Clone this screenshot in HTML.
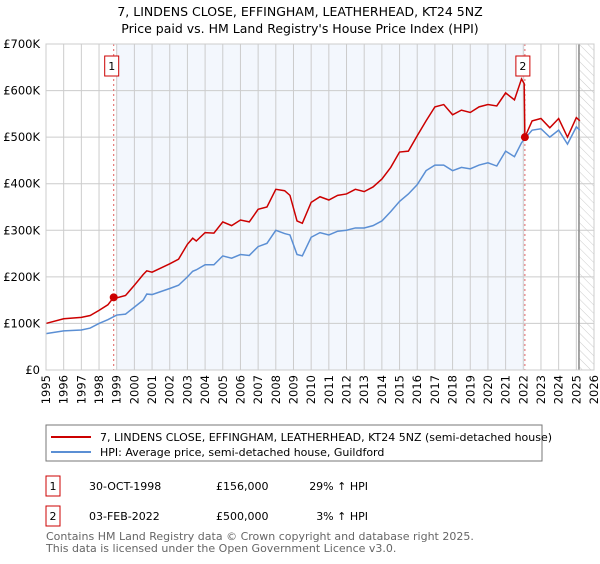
<!DOCTYPE html>
<html><head><meta charset="utf-8"><style>
body{margin:0;background:#fff;font-family:"DejaVu Sans","Liberation Sans",sans-serif;}
</style></head><body>
<svg width="600" height="560" xmlns="http://www.w3.org/2000/svg" font-family="DejaVu Sans, Liberation Sans, sans-serif">
<defs><pattern id="hatch" width="6" height="6" patternUnits="userSpaceOnUse" patternTransform="rotate(-45)"><line x1="0" y1="0" x2="0" y2="6" stroke="#ccc" stroke-width="1"/></pattern></defs>
<text x="300" y="16" text-anchor="middle" font-size="12.5">7, LINDENS CLOSE, EFFINGHAM, LEATHERHEAD, KT24 5NZ</text>
<text x="300" y="33" text-anchor="middle" font-size="12.5">Price paid vs. HM Land Registry's House Price Index (HPI)</text>
<g id="plot"></g>
<g id="legend">
<rect x="46" y="425" width="496" height="36" fill="#fff" stroke="#777"/>
<line x1="51" y1="437" x2="91" y2="437" stroke="#cc0000" stroke-width="2"/>
<text x="100" y="441" font-size="11">7, LINDENS CLOSE, EFFINGHAM, LEATHERHEAD, KT24 5NZ (semi-detached house)</text>
<line x1="51" y1="452" x2="91" y2="452" stroke="#5b8fd4" stroke-width="2"/>
<text x="100" y="456" font-size="11">HPI: Average price, semi-detached house, Guildford</text>
</g>
<g font-size="11">
<rect x="46" y="476" width="14" height="20" fill="#fff" stroke="#cc0000"/>
<text x="53" y="490" text-anchor="middle">1</text>
<text x="89" y="490">30-OCT-1998</text>
<text x="216" y="490">£156,000</text>
<text x="368" y="490" text-anchor="end">29% ↑ HPI</text>
<rect x="46" y="506" width="14" height="20" fill="#fff" stroke="#cc0000"/>
<text x="53" y="520" text-anchor="middle">2</text>
<text x="89" y="520">03-FEB-2022</text>
<text x="216" y="520">£500,000</text>
<text x="368" y="520" text-anchor="end">3% ↑ HPI</text>
</g>
<text x="46" y="540" font-size="11" fill="#666">Contains HM Land Registry data © Crown copyright and database right 2025.</text>
<text x="46" y="552" font-size="11" fill="#666">This data is licensed under the Open Government Licence v3.0.</text>
</svg>
<script>
const yearTicks=[1995,1996,1997,1998,1999,2000,2001,2002,2003,2004,2005,2006,2007,2008,2009,2010,2011,2012,2013,2014,2015,2016,2017,2018,2019,2020,2021,2022,2023,2024,2025,2026];
const valueTicks=[0,100000,200000,300000,400000,500000,600000,700000];
const valueTickLabels=["£0","£100K","£200K","£300K","£400K","£500K","£600K","£700K"];
const hpiYears=[1995,1996,1997,1997.5,1998,1998.5,1999,1999.5,2000,2000.5,2000.7,2001,2002,2002.5,2003,2003.3,2003.5,2004,2004.5,2005,2005.5,2006,2006.5,2007,2007.5,2008,2008.5,2008.8,2009.2,2009.5,2010,2010.5,2011,2011.5,2012,2012.5,2013,2013.5,2014,2014.5,2015,2015.5,2016,2016.5,2017,2017.5,2018,2018.5,2019,2019.5,2020,2020.5,2021,2021.5,2021.9,2022.09,2022.5,2023,2023.5,2024,2024.5,2025,2025.2];
const hpiValues=[78000,84000,86000,90000,100000,108000,118000,120000,135000,150000,163000,162000,175000,182000,200000,212000,215000,226000,226000,245000,240000,248000,246000,265000,272000,300000,293000,290000,248000,245000,285000,295000,290000,298000,300000,305000,305000,310000,320000,340000,362000,378000,398000,428000,440000,440000,428000,435000,432000,440000,445000,438000,470000,458000,488000,497000,515000,518000,500000,515000,485000,522000,515000];
const ppYears=[1995,1996,1997,1997.5,1998,1998.5,1998.83,1999,1999.5,2000,2000.5,2000.7,2001,2002,2002.5,2003,2003.3,2003.5,2004,2004.5,2005,2005.5,2006,2006.5,2007,2007.5,2008,2008.5,2008.8,2009.2,2009.5,2010,2010.5,2011,2011.5,2012,2012.5,2013,2013.5,2014,2014.5,2015,2015.5,2016,2016.5,2017,2017.5,2018,2018.5,2019,2019.5,2020,2020.5,2021,2021.5,2021.9,2022.05,2022.09,2022.5,2023,2023.5,2024,2024.5,2025,2025.2];
const ppValues=[100000,110000,113000,117000,128000,140000,156000,155000,160000,182000,205000,213000,210000,228000,238000,270000,283000,277000,295000,294000,318000,310000,322000,318000,345000,350000,388000,385000,375000,320000,315000,360000,372000,365000,375000,378000,388000,383000,393000,410000,435000,468000,470000,503000,535000,565000,570000,548000,558000,553000,565000,570000,567000,595000,580000,625000,615000,500000,535000,540000,520000,540000,500000,542000,535000];
const sales=[{n:"1",year:1998.83,value:156000},{n:"2",year:2022.09,value:500000}];
const X0=46,X1=594,Y0=370,Y1=44;
const xs=y=>X0+(y-1995)/(2026-1995)*(X1-X0);
const ys=v=>Y0-v/700000*(Y0-Y1);
const NS="http://www.w3.org/2000/svg";
const g=document.getElementById('plot');
function el(t,a,p){const e=document.createElementNS(NS,t);for(const k in a)e.setAttribute(k,a[k]);(p||g).appendChild(e);return e;}
let r=el('rect',{x:xs(1999),y:Y1,width:xs(2022.09)-xs(1999),height:Y0-Y1,fill:'#eef3fc',opacity:0.7});


r=el('rect',{x:xs(2025.15),y:Y1,width:X1-xs(2025.15),height:Y0-Y1,fill:'url(#hatch)'});


yearTicks.forEach(y=>{
 const l=el('line',{x1:xs(y),x2:xs(y),y1:Y1,y2:Y0,stroke:'#ccc'});
 
 
 const t=el('text',{x:0,y:0,'font-size':11.5,'text-anchor':'end',transform:`translate(${xs(y)+4},${Y0+5}) rotate(-90)`});
 t.textContent=y;
 
 
});
valueTicks.forEach((v,i)=>{
 const l=el('line',{x1:X0,x2:X1,y1:ys(v),y2:ys(v),stroke:'#ccc'});
 
 
 const t=el('text',{x:40,y:ys(v)+4,'font-size':11.5,'text-anchor':'end'});
 t.textContent=valueTickLabels[i];
 
 
});
let dl=el('line',{x1:xs(2025.15),x2:xs(2025.15),y1:Y1,y2:Y0,stroke:'#888','stroke-width':1.5});


sales.forEach(s=>{
 const l=el('line',{x1:xs(s.year),x2:xs(s.year),y1:Y1,y2:Y0,stroke:'#e06060','stroke-dasharray':'2,3'});
 
 
});
const hp=el('polyline',{points:hpiYears.map((y,i)=>xs(y)+','+ys(hpiValues[i])).join(' '),fill:'none',stroke:'#5b8fd4','stroke-width':1.5});


const pp=el('polyline',{points:ppYears.map((y,i)=>xs(y)+','+ys(ppValues[i])).join(' '),fill:'none',stroke:'#cc0000','stroke-width':1.5});


sales.forEach(s=>{
 const c=el('circle',{cx:xs(s.year),cy:ys(s.value),r:4,fill:'#cc0000'});
 
 
 const b=el('rect',{x:xs(s.year)-9,y:56,width:14,height:20,fill:'#fff',stroke:'#cc0000'});
 
 
 const t=el('text',{x:xs(s.year)-2,y:70,'font-size':11,'text-anchor':'middle'});
 t.textContent=s.n;
 
 
});
const f=el('rect',{x:X0,y:Y1,width:X1-X0,height:Y0-Y1,fill:'none',stroke:'#ccc'});


</script>
</body></html>
